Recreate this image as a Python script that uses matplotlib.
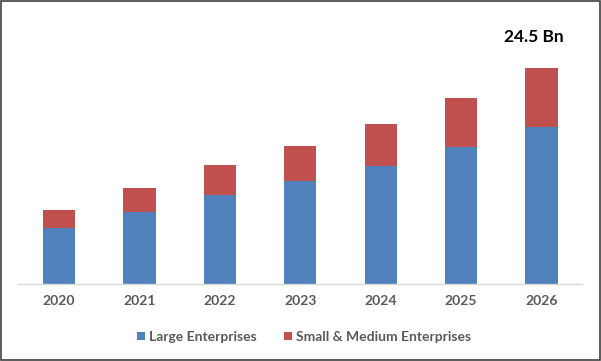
import matplotlib
matplotlib.use('Agg')
import matplotlib.pyplot as plt
import numpy as np
from matplotlib.patches import Rectangle

years = ['2020', '2021', '2022', '2023', '2024', '2025', '2026']
large = [6.4, 8.2, 10.1, 11.7, 13.4, 15.5, 17.8]
sme = [2.0, 2.7, 3.4, 4.0, 4.7, 5.6, 6.7]
top_label = '24.5 Bn'

blue = '#4F81BD'
red = '#C0504D'
grey = '#595959'

plt.rcParams['font.family'] = ['Lato', 'DejaVu Sans']

fig = plt.figure(figsize=(6.01, 3.61), dpi=100)
ax = fig.add_axes([0.03, 0.2133, 0.938, 0.733])

x = np.arange(len(years))
w = 0.4
ax.bar(x, large, w, color=blue, label='Large Enterprises')
ax.bar(x, sme, w, bottom=large, color=red, label='Small & Medium Enterprises')

ax.set_xlim(-0.51, 6.5)
ax.set_ylim(0, 30)
ax.set_yticks([])
ax.set_xticks(x)
ax.set_xticklabels(years, fontsize=10, fontweight='bold', color=grey)
ax.tick_params(axis='x', length=0, pad=8)
for s in ['top', 'right', 'left']:
    ax.spines[s].set_visible(False)
ax.spines['bottom'].set_color('#D9D9D9')
ax.spines['bottom'].set_linewidth(1)

total = large[-1] + sme[-1]
ax.text(x[-1] - 0.1, total + 2.6, top_label, ha='center', va='bottom',
        fontsize=12.5, fontweight='bold', color='black')

leg = fig.legend(loc='center', bbox_to_anchor=(0.506, 0.067), ncol=2, frameon=False,
                 handlelength=0.6, handleheight=0.6, handletextpad=0.3,
                 columnspacing=1.95, prop={'size': 10, 'weight': 'bold'})
for t in leg.get_texts():
    t.set_color(grey)

fig.add_artist(Rectangle((0.0015, 0.0025), 0.997, 0.995, transform=fig.transFigure,
                         fill=False, edgecolor='#404040', linewidth=1.2))

fig.savefig('out.png', dpi=100)
